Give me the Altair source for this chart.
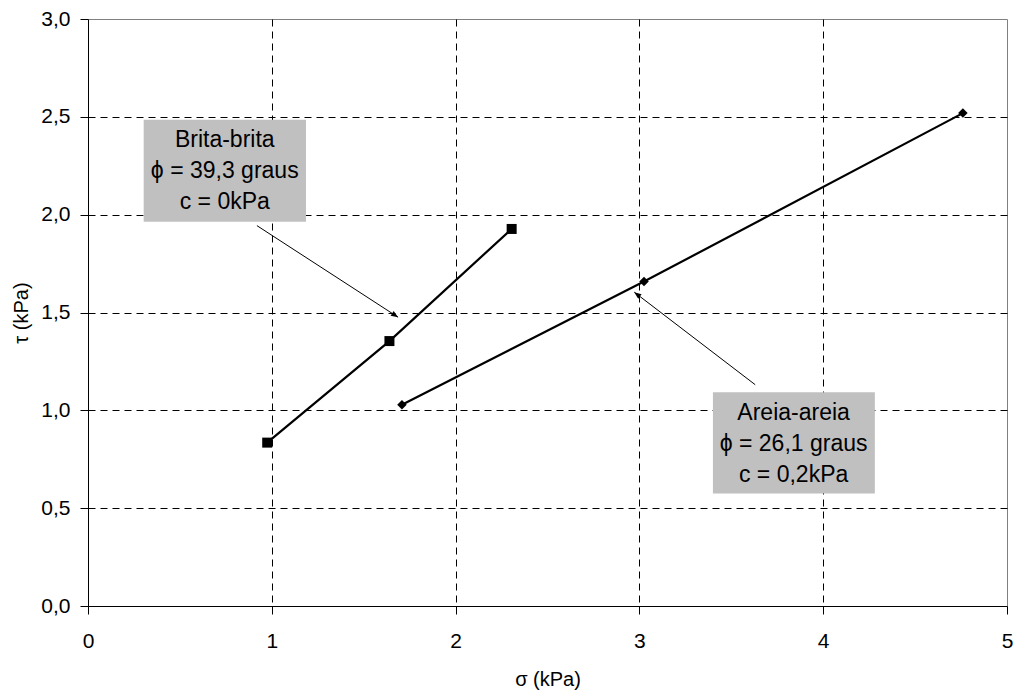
import altair as alt
import pandas as pd

# Data
brita_sigma = [0.975, 1.64, 2.305]
brita_tau = [0.835, 1.354, 1.927]
areia_sigma = [1.708, 3.025, 4.76]
areia_tau = [1.029, 1.658, 2.519]

box_labels = ["Brita-brita\nϕ = 39,3 graus\nc = 0kPa", "Areia-areia\nϕ = 26,1 graus\nc = 0,2kPa"]
box_x1 = [0.303, 3.40]
box_x2 = [1.186, 4.281]
box_y1 = [1.964, 0.575]
box_y2 = [2.485, 1.092]
box_tx = [0.744, 3.839]
box_ty = [2.224, 0.827]

arrow_x1 = [0.919, 3.63]
arrow_y1 = [1.944, 1.131]
arrow_x2 = [1.687, 2.972]
arrow_y2 = [1.476, 1.604]
arrow_angle = [123, 307]

FONT = "Liberation Sans, Arial, Helvetica, sans-serif"

series = pd.DataFrame({
    "sigma": brita_sigma + areia_sigma,
    "tau": brita_tau + areia_tau,
    "serie": ["Brita-brita"] * 3 + ["Areia-areia"] * 3,
})
brita = series[series.serie == "Brita-brita"]
areia = series[series.serie == "Areia-areia"]

boxes = pd.DataFrame({"x1": box_x1, "x2": box_x2, "y1": box_y1, "y2": box_y2,
                      "tx": box_tx, "ty": box_ty, "label": box_labels})
arrows = pd.DataFrame({"x1": arrow_x1, "y1": arrow_y1, "x2": arrow_x2, "y2": arrow_y2,
                       "angle": arrow_angle})

xscale = alt.Scale(domain=[0, 5], nice=False, zero=False)
yscale = alt.Scale(domain=[0, 3], nice=False, zero=False)

xaxis = alt.Axis(
    title="σ (kPa)", values=[0, 1, 2, 3, 4, 5], format="d", labelFlush=False,
    grid=True, gridDash=[7, 5], gridColor="#000000", gridWidth=1,
    gridOpacity={"condition": {"test": "datum.value == 0 || datum.value == 5", "value": 0}, "value": 1},
    tickSize=8, tickColor="#000000", domainColor="#000000",
    labelFontSize=21, labelFont=FONT, labelColor="#000000", labelPadding=16,
    titleFontSize=20, titleFont=FONT, titleFontWeight="normal", titleColor="#000000", titlePadding=18,
)
yaxis = alt.Axis(
    title="τ (kPa)", values=[0, 0.5, 1, 1.5, 2, 2.5, 3], labelFlush=False,
    labelExpr="replace(format(datum.value, '.1f'), '.', ',')",
    grid=True, gridDash=[7, 5], gridColor="#000000", gridWidth=1,
    gridOpacity={"condition": {"test": "datum.value == 0 || datum.value == 3", "value": 0}, "value": 1},
    tickSize=8, tickColor="#000000", domainColor="#000000",
    labelFontSize=21, labelFont=FONT, labelColor="#000000", labelPadding=10,
    titleFontSize=20, titleFont=FONT, titleFontWeight="normal", titleColor="#000000", titlePadding=9,
)

lines = alt.Chart(series).mark_line(color="black", strokeWidth=2.2).encode(
    x=alt.X("sigma:Q", scale=xscale, axis=xaxis),
    y=alt.Y("tau:Q", scale=yscale, axis=yaxis),
    detail="serie:N",
)
sq = alt.Chart(brita).mark_point(shape="square", filled=True, size=100, color="black", opacity=1).encode(
    x="sigma:Q", y="tau:Q")
dm = alt.Chart(areia).mark_point(shape="diamond", filled=True, size=90, color="black", opacity=1).encode(
    x="sigma:Q", y="tau:Q")

rects = alt.Chart(boxes).mark_rect(color="#c0c0c0").encode(
    x="x1:Q", x2="x2:Q", y="y1:Q", y2="y2:Q")
texts = alt.Chart(boxes).mark_text(
    font=FONT, fontSize=23, color="black", lineBreak="\n", lineHeight=31,
    align="center", baseline="middle", dy=-31).encode(
    x="tx:Q", y="ty:Q", text="label:N")

arrow_lines = alt.Chart(arrows).mark_rule(color="black", strokeWidth=1).encode(
    x="x1:Q", y="y1:Q", x2="x2:Q", y2="y2:Q")
heads = alt.Chart(arrows).mark_point(
    shape="M0,0 L0.4,1 L-0.4,1 Z", filled=True, size=200, color="black", opacity=1).encode(
    x="x2:Q", y="y2:Q", angle=alt.Angle("angle:Q", scale=None))

chart = alt.layer(lines, sq, dm, arrow_lines, heads, rects, texts).properties(
    width=919, height=587,
    autosize=alt.AutoSizeParams(type="none"),
    padding={"left": 80, "top": 11, "right": 8, "bottom": 90},
    background="white",
).configure_view(stroke="#808080", strokeWidth=1)

chart.save("out.html", embed_options={"renderer": "svg", "actions": False})
